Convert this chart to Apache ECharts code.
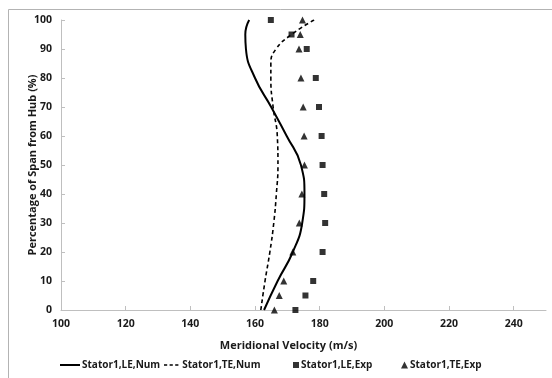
<!DOCTYPE html>
<html>
<head>
<meta charset="utf-8">
<script src="https://cdn.jsdelivr.net/npm/echarts@6/dist/echarts.min.js"></script>
<style>
  html, body { margin: 0; padding: 0; background: #fff; }
  #chart { width: 552px; height: 378px; }
</style>
</head>
<body>
<div id="chart"></div>
<script>
// Spanwise meridional velocity profiles, stator 1 leading/trailing edge
const seriesNames = ['Stator1,LE,Num', 'Stator1,TE,Num', 'Stator1,LE,Exp', 'Stator1,TE,Exp'];

// Numerical results (span %, velocity m/s)
const leNumSpan = [0, 10, 20, 30, 40, 50, 60, 70, 80, 90, 95, 100];
const leNumVel  = [162.8, 167.0, 171.7, 174.6, 175.3, 174.2, 169.8, 165.0, 160.0, 157.2, 157.0, 158.2];

const teNumSpan = [0, 10, 20, 30, 40, 50, 60, 70, 80, 85, 90, 95, 100];
const teNumVel  = [161.8, 163.1, 164.6, 165.8, 166.6, 167.1, 166.9, 165.6, 164.9, 164.9, 166.5, 171.3, 178.3];

// Measured values
const expSpan  = [0, 5, 10, 20, 30, 40, 50, 60, 70, 80, 90, 95, 100];
const leExpVel = [172.5, 175.6, 178.0, 180.9, 181.7, 181.4, 180.9, 180.6, 179.8, 178.8, 176.0, 171.3, 164.9];
const teExpVel = [166.0, 167.5, 168.9, 171.7, 173.7, 174.5, 175.3, 175.2, 174.9, 174.2, 173.6, 174.0, 174.7];

// Axis ticks
const xTicks = [100, 120, 140, 160, 180, 200, 220, 240];
const yTicks = [0, 10, 20, 30, 40, 50, 60, 70, 80, 90, 100];

const pairs = (vel, span) => vel.map((v, i) => [v, span[i]]);

const font = '"Open Sans", Lato, sans-serif';
const axisGrey = '#bfbfbf';
const txt = { fontFamily: font, fontWeight: 'bold', fontSize: 10.5, color: '#1a1a1a' };

// legend swatches for the two curves
const solidIcon = 'rect';
const dashIcon = 'path://M0,0h4v2h-4z M7,0h4v2h-4z M14,0h4v2h-4z';

const chart = echarts.init(document.getElementById('chart'), null, { renderer: 'canvas' });

function legendAt(item, left, w, h) {
  return {
    data: [item], left: left, top: 360, itemWidth: w, itemHeight: h,
    selectedMode: false, padding: 0,
    itemStyle: { color: '#000', borderWidth: 0 },
    textStyle: Object.assign({}, txt, { fontSize: 10, padding: [0, 0, 0, -3] })
  };
}

chart.setOption({
  animation: false,
  backgroundColor: '#fff',
  graphic: [{
    type: 'rect', silent: true,
    shape: { x: 8.5, y: 9.5, width: 560, height: 400 },
    style: { fill: 'none', stroke: '#b3b3b3', lineWidth: 1 }
  }],
  grid: { left: 61, top: 20, right: 6, bottom: 68 },
  xAxis: {
    type: 'value', min: 100, max: 250,
    name: 'Meridional Velocity (m/s)', nameLocation: 'middle', nameGap: 30,
    nameMoveOverlap: false,
    nameTextStyle: Object.assign({}, txt, { fontSize: 11, padding: [0, 30, 0, 0] }),
    axisLine: { show: true, lineStyle: { color: axisGrey, width: 1 } },
    axisTick: { show: true, inside: true, length: 4, customValues: xTicks, lineStyle: { color: axisGrey } },
    axisLabel: Object.assign({}, txt, { margin: 9, customValues: xTicks }),
    splitLine: { show: false }
  },
  yAxis: {
    type: 'value', min: 0, max: 100, interval: 10,
    name: 'Percentage of Span from Hub (%)', nameLocation: 'middle', nameGap: 23,
    nameMoveOverlap: false,
    nameTextStyle: Object.assign({}, txt, { fontSize: 11 }),
    axisLine: { show: true, lineStyle: { color: axisGrey, width: 1 } },
    axisTick: { show: true, inside: true, length: 4, customValues: yTicks, lineStyle: { color: axisGrey } },
    axisLabel: Object.assign({}, txt, { margin: 9, customValues: yTicks }),
    splitLine: { show: false }
  },
  legend: [
    legendAt({ name: seriesNames[0], icon: solidIcon }, 60, 20, 2),
    legendAt({ name: seriesNames[1], icon: dashIcon }, 164, 18, 1.6),
    legendAt({ name: seriesNames[2], icon: 'rect' }, 293, 6, 6),
    legendAt({ name: seriesNames[3], icon: 'triangle' }, 401, 7, 7)
  ],
  series: [
    {
      name: seriesNames[0], type: 'line', smooth: 0.5, symbol: 'none',
      data: pairs(leNumVel, leNumSpan),
      lineStyle: { color: '#000', width: 2, type: 'solid' },
      itemStyle: { color: '#000' }
    },
    {
      name: seriesNames[1], type: 'line', smooth: 0.5, symbol: 'none',
      data: pairs(teNumVel, teNumSpan),
      lineStyle: { color: '#000', width: 1.6, type: [4, 3] },
      itemStyle: { color: '#000' }
    },
    {
      name: seriesNames[2], type: 'scatter', symbol: 'rect', symbolSize: 6,
      data: pairs(leExpVel, expSpan),
      itemStyle: { color: '#000' }
    },
    {
      name: seriesNames[3], type: 'scatter', symbol: 'triangle', symbolSize: 7,
      data: pairs(teExpVel, expSpan),
      itemStyle: { color: '#000' }
    }
  ]
});
</script>
</body>
</html>
